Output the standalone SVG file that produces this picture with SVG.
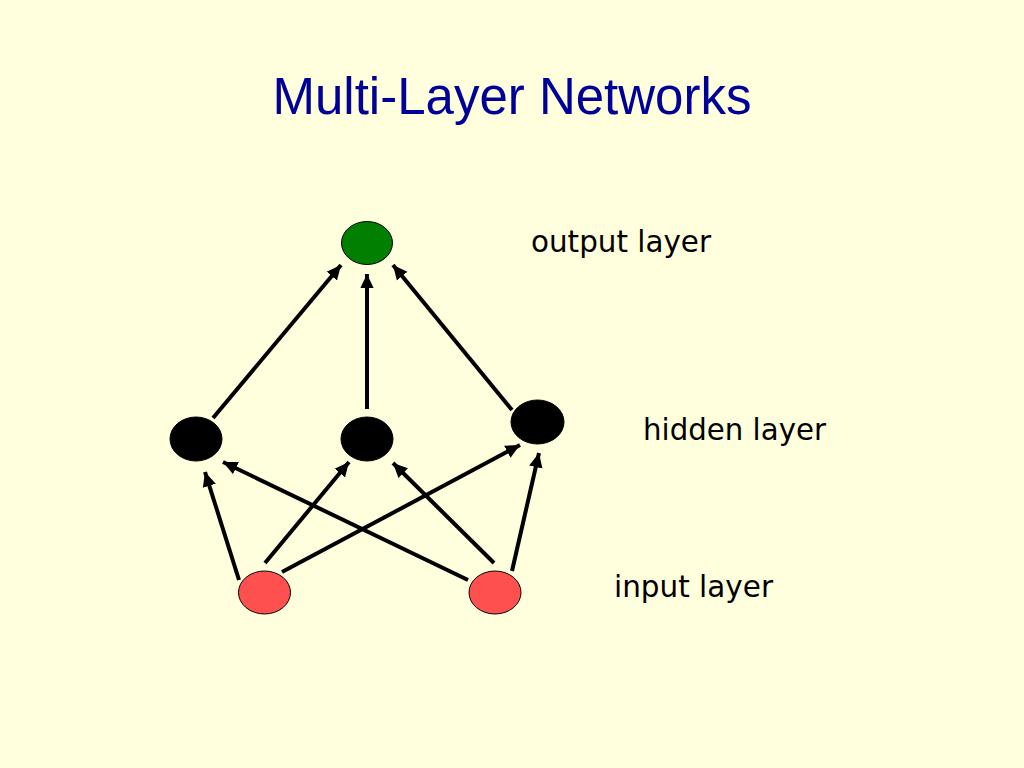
<svg xmlns="http://www.w3.org/2000/svg" width="1024" height="768" viewBox="0 0 1024 768">
<defs>
<marker id="arr" markerWidth="4" markerHeight="4" refX="3.6" refY="2" orient="auto" markerUnits="strokeWidth">
<path d="M0,0.3 L3.6,2 L0,3.7 z" fill="#000"/>
</marker>
<style>
.edge{stroke:#000;stroke-width:4;fill:none;marker-end:url(#arr)}
.node{stroke:#000;stroke-width:1}
.lbl{font-family:"DejaVu Sans","Liberation Sans",sans-serif;font-size:30px;fill:#000}
</style>
</defs>
<rect x="0" y="0" width="1024" height="768" fill="#FFFFDD"/>
<text x="512" y="114" text-anchor="middle" font-family="'Liberation Sans',Arial,sans-serif" font-size="51" fill="#000099">Multi-Layer Networks</text>
<g id="connectors">
<line class="edge" x1="213" y1="418" x2="341" y2="265"/>
<line class="edge" x1="367" y1="409" x2="367" y2="274"/>
<line class="edge" x1="512" y1="410" x2="393" y2="265"/>
<line class="edge" x1="239" y1="580" x2="205" y2="472"/>
<line class="edge" x1="265" y1="563" x2="349" y2="462"/>
<line class="edge" x1="282" y1="572" x2="520" y2="445"/>
<line class="edge" x1="468" y1="580" x2="223" y2="462"/>
<line class="edge" x1="494" y1="563" x2="393" y2="463"/>
<line class="edge" x1="512" y1="571" x2="539" y2="453"/>
</g>
<g id="output"><ellipse class="node" cx="367" cy="243" rx="25.5" ry="21.5" fill="#007F00"/></g>
<g id="hidden1"><ellipse class="node" cx="196" cy="439" rx="26" ry="22" fill="#000"/></g>
<g id="hidden2"><ellipse class="node" cx="367" cy="439" rx="26" ry="22" fill="#000"/></g>
<g id="hidden3"><ellipse class="node" cx="537.5" cy="422" rx="26.5" ry="22" fill="#000"/></g>
<g id="input1"><ellipse class="node" cx="264.5" cy="592.5" rx="26" ry="21.5" fill="#FF5050"/></g>
<g id="input2"><ellipse class="node" cx="495" cy="592.5" rx="26" ry="21.5" fill="#FF5050"/></g>
<g id="labels">
<text class="lbl" x="531" y="252" textLength="180" lengthAdjust="spacingAndGlyphs">output layer</text>
<text class="lbl" x="643" y="440" textLength="183" lengthAdjust="spacingAndGlyphs">hidden layer</text>
<text class="lbl" x="614" y="597" textLength="159" lengthAdjust="spacingAndGlyphs">input layer</text>
</g>
</svg>
